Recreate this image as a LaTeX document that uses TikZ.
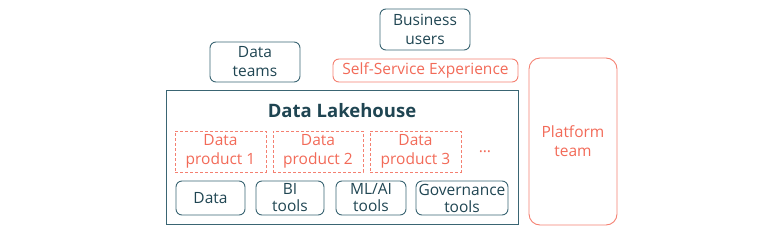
\documentclass[tikz,border=0pt]{standalone}
\usepackage{fontspec}
\setmainfont{Open Sans}
\definecolor{teal}{HTML}{1F4552}
\definecolor{tealline}{HTML}{3A6573}
\definecolor{coral}{HTML}{F26A58}
\begin{document}
\begin{tikzpicture}[x=1pt,y=-1pt,
  txt/.style={font=\fontsize{15.5}{19}\selectfont},
  box/.style={txt, draw=tealline, line width=0.9pt, rounded corners=6pt, text=teal, align=center, inner sep=0pt},
  cbox/.style={txt, draw=coral!85, line width=0.9pt, rounded corners=6pt, text=coral, align=center, inner sep=0pt},
  dbox/.style={txt, draw=coral!85, line width=0.8pt, dashed, dash pattern=on 3pt off 2pt, text=coral, align=center, inner sep=0pt},
  small/.style={font=\fontsize{15.5}{17}\selectfont},
  lbl/.style={align=center, inner sep=0pt}]
\useasboundingbox (0,0) rectangle (760,231);
% Data teams
\node[box, minimum width=90pt, minimum height=40pt] (dt) at (255,62) {Data\\teams};
% Business users
\node[box, minimum width=90pt, minimum height=41pt] (bu) at (425,29.5) {Business\\users};
% Self-service
\node[cbox, minimum width=185pt, minimum height=23pt] (ss) at (425.5,70.5) {Self-Service Experience};
% Lakehouse
\node[draw=tealline, line width=0.9pt, minimum width=352pt, minimum height=134pt, inner sep=0pt] (lh) at (342,157) {};
\node[lbl, text=teal, font=\fontsize{18.5}{22}\bfseries\selectfont] (title) at (342,111) {Data Lakehouse};
% Data products
\node[dbox, minimum width=91pt, minimum height=41pt] (dp1) at (220.5,151.5) {Data\\product 1};
\node[dbox, minimum width=90pt, minimum height=41pt] (dp2) at (318,151.5) {Data\\product 2};
\node[dbox, minimum width=91pt, minimum height=41pt] (dp3) at (415.5,151.5) {Data\\product 3};
\node[lbl, txt, text=coral] (dots) at (485,152) {\dots};
% Bottom boxes
\node[box, small, minimum width=69pt, minimum height=34pt] (data) at (210.5,198) {Data};
\node[box, small, minimum width=68pt, minimum height=34pt] (bi) at (290,198) {BI\\tools};
\node[box, small, minimum width=70pt, minimum height=34pt] (ml) at (371,198) {ML/AI\\tools};
\node[box, small, minimum width=92pt, minimum height=34pt] (gov) at (462,198) {Governance\\tools};
% Platform team
\node[cbox, rounded corners=11pt, minimum width=88pt, minimum height=167pt] (pt) at (573,141.5) {Platform\\team};
\end{tikzpicture}
\end{document}
